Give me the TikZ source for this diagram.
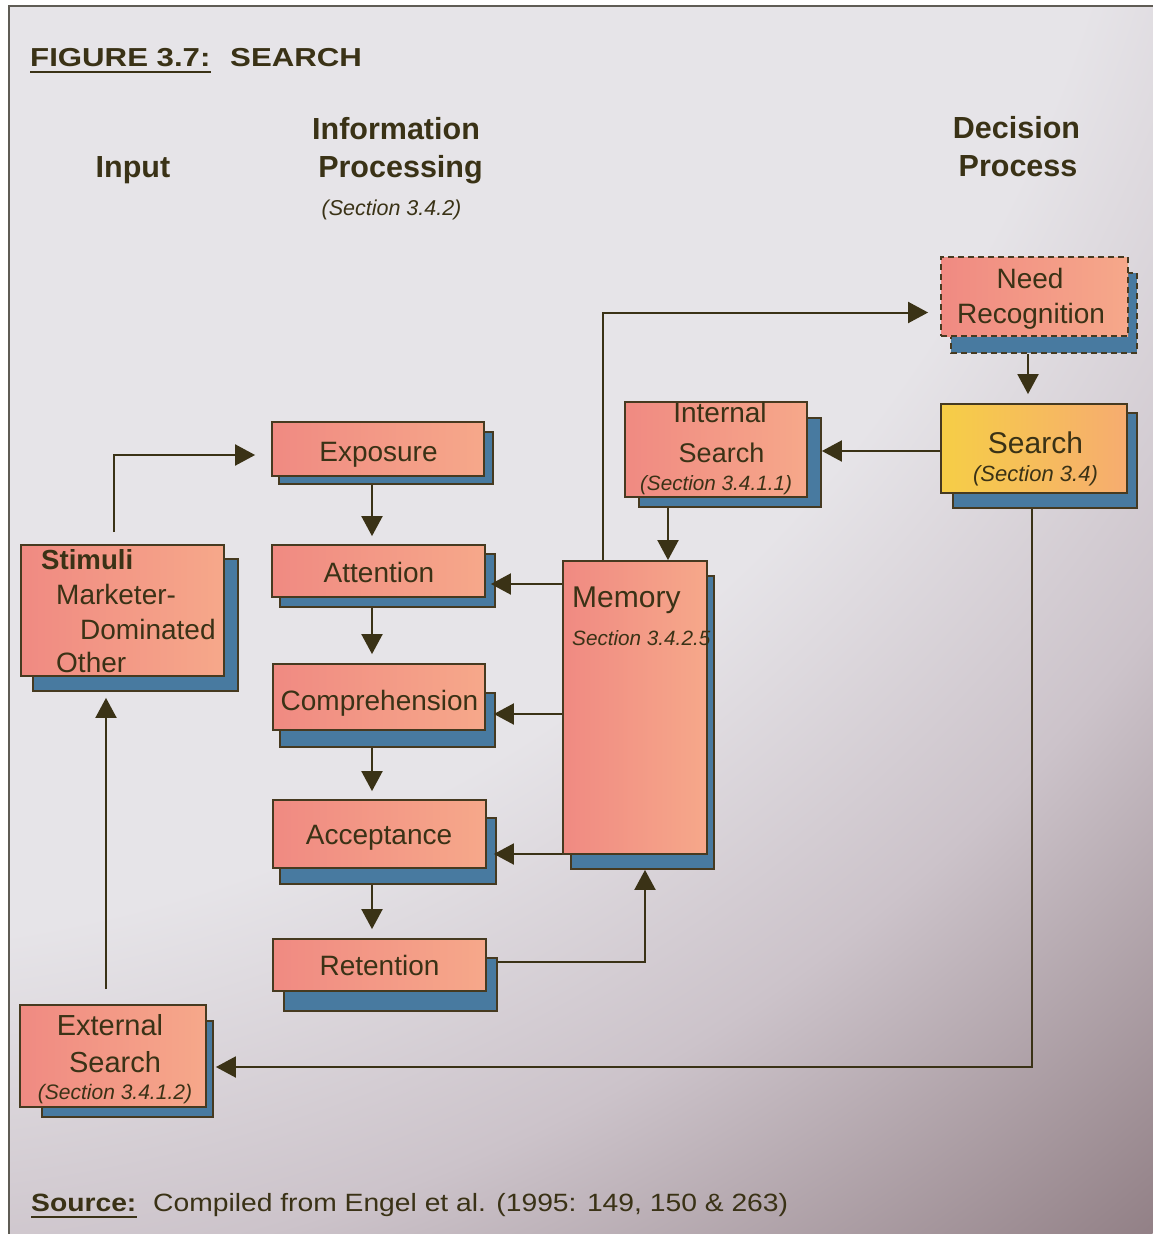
\documentclass[tikz,border=0pt]{standalone}
\usepackage{fontspec}
\setmainfont{Liberation Sans}
\newfontfamily\titlefont[FakeStretch=1.2]{Liberation Sans}
\newfontfamily\footfont[FakeStretch=1.13]{Liberation Sans}
\usetikzlibrary{arrows.meta}

\definecolor{ink}{RGB}{58,50,22}
\definecolor{edge}{RGB}{70,58,32}
\definecolor{pinkL}{RGB}{240,138,130}
\definecolor{pinkR}{RGB}{246,168,138}
\definecolor{yelL}{RGB}{246,206,70}
\definecolor{yelR}{RGB}{246,172,112}
\definecolor{shadowC}{RGB}{72,122,160}
\definecolor{paperA}{RGB}{230,228,232}
\definecolor{paperB}{RGB}{204,195,202}
\definecolor{paperC}{RGB}{146,128,134}
\definecolor{frameC}{RGB}{95,92,85}

% paper tone: light at the top left, darkening towards the bottom right
% (the path edge sits at 25bp of the shading)
\pgfdeclareradialshading{paper}{\pgfpointorigin}{%
  color(0bp)=(paperA); color(15.9bp)=(paperA); color(20bp)=(paperB);
  color(25bp)=(paperC); color(50bp)=(paperC)}

\newcommand\fs[1]{\fontsize{#1}{#1}\selectfont}

\begin{document}
\begin{tikzpicture}[x=1pt,y=-1pt,
  card/.style={draw=edge, line width=1.8pt, inner sep=0pt, left color=pinkL, right color=pinkR},
  goldcard/.style={card, left color=yelL, right color=yelR},
  backing/.style={draw=edge, line width=1.4pt, fill=shadowC},
  link/.style={draw=ink, line width=2pt, -{Triangle[length=20pt,width=21pt]}},
  lbl/.style={inner sep=0pt, text=ink, anchor=base, font=\fs{28}},
  sec/.style={lbl, font=\fs{21}\itshape},
  head/.style={lbl, font=\fs{30.5}\bfseries},
  dashy/.style={dash pattern=on 6pt off 4pt},
]
\useasboundingbox (0,0) rectangle (1153,1234);

% page and framed panel
\fill[white] (0,0) rectangle (1153,1234);
\begin{scope}
  \clip (9,6) rectangle (1153,1234);
  \shade[shading=paper] (-200,-400) circle (2121);
\end{scope}
\draw[frameC, line width=2pt] (9,1234) -- (9,6) -- (1153,6);

% drop shadows
\draw[backing, dashy] (951,273) rectangle (1137,353);
\draw[backing] (953,413) rectangle (1137,508);
\draw[backing] (639,418) rectangle (821,507);
\draw[backing] (279,432) rectangle (493,484);
\draw[backing] (280,554) rectangle (495,607);
\draw[backing] (280,693) rectangle (495,747);
\draw[backing] (280,818) rectangle (496,884);
\draw[backing] (284,958) rectangle (497,1011);
\draw[backing] (571,576) rectangle (714,869);
\draw[backing] (33,559) rectangle (238,691);
\draw[backing] (42,1021) rectangle (213,1117);

% boxes
\node[card, dashy, minimum width=187pt, minimum height=79pt] (need) at (1034.5,296.5) {};
\node[goldcard, minimum width=186pt, minimum height=89pt] (srch) at (1034,448.5) {};
\node[card, minimum width=182pt, minimum height=95pt] (int) at (716,449.5) {};
\node[card, minimum width=212pt, minimum height=54pt] (expo) at (378,449) {};
\node[card, minimum width=213pt, minimum height=52pt] (att) at (378.5,571) {};
\node[card, minimum width=212pt, minimum height=66pt] (comp) at (379,697) {};
\node[card, minimum width=213pt, minimum height=68pt] (acc) at (379.5,834) {};
\node[card, minimum width=213pt, minimum height=52pt] (ret) at (379.5,965) {};
\node[card, minimum width=144pt, minimum height=293pt] (mem) at (635,707.5) {};
\node[card, minimum width=203pt, minimum height=131pt] (stim) at (122.5,610.5) {};
\node[card, minimum width=186pt, minimum height=102pt] (ext) at (113,1056) {};

% connector ends
\coordinate (memIn) at ([xshift=33]mem.north);
\coordinate (intIn) at ([xshift=14]int.east);

% connectors
\draw[link, shorten >=16pt] ([xshift=-8.5,yshift=12]stim.north) |- ([yshift=-6]expo.west);
\draw[link, shorten >=8pt] ([xshift=-6,yshift=-8]expo.south) -- ([xshift=-6.5]att.north);
\draw[link, shorten >=9pt] ([xshift=-6.5,yshift=-10]att.south) -- ([xshift=-7]comp.north);
\draw[link, shorten >=8pt] ([xshift=-7,yshift=-17]comp.south) -- ([xshift=-7.5]acc.north);
\draw[link, shorten >=9pt] ([xshift=-7.5,yshift=-16]acc.south) -- ([xshift=-7.5]ret.north);
\draw[link] ([yshift=-13]att.east -| mem.west) -- ([xshift=5,yshift=-13]att.east);
\draw[link] ([yshift=-17]comp.east -| mem.west) -- ([xshift=8,yshift=-17]comp.east);
\draw[link] ([yshift=-20]acc.east -| mem.west) -- ([xshift=7,yshift=-20]acc.east);
\draw[link] ([xshift=11,yshift=3]ret.east) -| ([xshift=10,yshift=-15]mem.south);
\draw[link] ([yshift=-10]int.south -| memIn) -- (memIn);
\draw[link, shorten >=12pt] ([xshift=-32]mem.north) |- ([yshift=-16]need.west);
\draw[link, shorten >=9pt] ([xshift=-6.5,yshift=-17]need.south) -- ([xshift=-6]srch.north);
\draw[link] ([yshift=-2.5]srch.west) -- ([yshift=-2.5]srch.west -| intIn);
\draw[link] ([xshift=-2,yshift=-15]srch.south) |- ([xshift=9,yshift=-11]ext.east);
\draw[link] ([xshift=-7,yshift=15]ext.north) -- ([xshift=-16.5,yshift=-21]stim.south);

% title
\node[lbl, anchor=base west, font=\titlefont\bfseries\fs{26}] (fig) at (30,66) {FIGURE 3.7:};
\node[lbl, anchor=base west, font=\titlefont\bfseries\fs{26}] (ftitle) at (230,66) {SEARCH};
\draw[ink, line width=2.5pt] ([yshift=-6]fig.base west) -- ([yshift=-6]fig.base east);

% column headings
\node[head] (hin) at (133,177) {Input};
\node[head] (hip1) at (396,139) {Information};
\node[head] (hip2) at (400.5,177) {Processing};
\node[sec, font=\fs{21.5}\itshape] (hip3) at (391.5,215) {(Section 3.4.2)};
\node[head] (hdp1) at (1016.5,138) {Decision};
\node[head] (hdp2) at (1018,176) {Process};

% box labels
\node[lbl] (t1) at (1030,288) {Need};
\node[lbl] (t2) at (1031,323) {Recognition};
\node[lbl, font=\fs{30}] (t3) at (1035.5,453) {Search};
\node[sec, font=\fs{22}\itshape] (t4) at (1035.5,481) {(Section 3.4)};
\node[lbl] (t5) at (720,422) {Internal};
\node[lbl, font=\fs{27}] (t6) at (721.5,462) {Search};
\node[sec, font=\fs{20.7}\itshape] (t7) at (716,490) {(Section 3.4.1.1)};
\node[lbl] (t8) at (378.5,461) {Exposure};
\node[lbl] (t9) at (379,582) {Attention};
\node[lbl] (t10) at (379.5,710) {Comprehension};
\node[lbl] (t11) at (379,844) {Acceptance};
\node[lbl] (t12) at (379.5,975) {Retention};
\node[lbl, anchor=base west, font=\fs{30}] (t13) at (572,607) {Memory};
\node[sec, anchor=base west, font=\fs{20.7}\itshape] (t14) at (572,645) {Section 3.4.2.5};
\node[lbl, anchor=base west, font=\fs{27.6}\bfseries] (t15) at (41,569) {Stimuli};
\node[lbl, anchor=base west] (t16) at (56,604) {Marketer-};
\node[lbl, anchor=base west] (t17) at (80,639) {Dominated};
\node[lbl, anchor=base west] (t18) at (56,672) {Other};
\node[lbl, font=\fs{29}] (t19) at (110,1035) {External};
\node[lbl, font=\fs{29}] (t20) at (115,1072) {Search};
\node[sec] (t21) at (115,1099) {(Section 3.4.1.2)};

% source line
\node[lbl, anchor=base west, font=\footfont\bfseries\fs{25}] (src) at (31,1211) {Source:};
\node[lbl, anchor=base west, font=\footfont\fs{25}] (srctext) at (153,1211) {Compiled from Engel et al. (1995: 149, 150 \& 263)};
\draw[ink, line width=2.5pt] ([yshift=-6]src.base west) -- ([yshift=-6]src.base east);
\end{tikzpicture}
\end{document}
